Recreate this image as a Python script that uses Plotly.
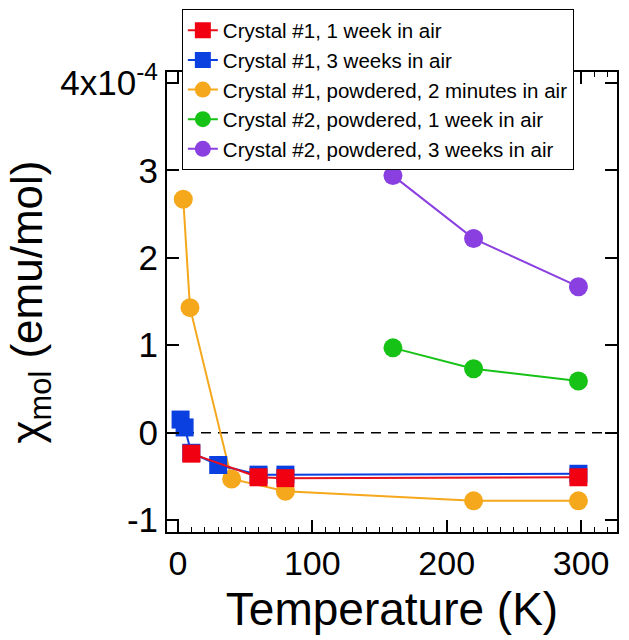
import plotly.graph_objects as go

# Data (chi_mol in units of 1e-4 emu/mol)
red_T = [10, 60, 80, 298]
red_chi = [-0.24, -0.51, -0.52, -0.51]

blue_T = [2, 5, 10, 30, 60, 80, 298]
blue_chi = [0.15, 0.06, -0.23, -0.37, -0.48, -0.48, -0.47]

orange_T = [4, 9, 40, 80, 220, 298]
orange_chi = [2.67, 1.43, -0.53, -0.67, -0.78, -0.78]

green_T = [160, 220, 298]
green_chi = [0.97, 0.73, 0.59]

purple_T = [160, 220, 298]
purple_chi = [2.94, 2.22, 1.67]

y_tickvals = [-1, 0, 1, 2, 3, 4]
y_ticktext = ["-1", "0", "1", "2", "3", "4x10<sup>-4</sup>"]
x_tickvals = [0, 100, 200, 300]

FONT = "Liberation Sans, Arial, sans-serif"

fig = go.Figure()

fig.add_trace(go.Scatter(x=orange_T, y=orange_chi, mode="lines+markers",
                         name="Crystal #1, powdered, 2 minutes in air", legendrank=3,
                         line=dict(color="#F5A81C", width=2),
                         marker=dict(symbol="circle", size=19, color="#F5A81C")))
fig.add_trace(go.Scatter(x=green_T, y=green_chi, mode="lines+markers",
                         name="Crystal #2, powdered, 1 week in air", legendrank=4,
                         line=dict(color="#17C217", width=2),
                         marker=dict(symbol="circle", size=19, color="#17C217")))
fig.add_trace(go.Scatter(x=purple_T, y=purple_chi, mode="lines+markers",
                         name="Crystal #2, powdered, 3 weeks in air", legendrank=5,
                         line=dict(color="#8A3FE0", width=2),
                         marker=dict(symbol="circle", size=19, color="#8A3FE0")))
fig.add_trace(go.Scatter(x=blue_T, y=blue_chi, mode="lines+markers",
                         name="Crystal #1, 3 weeks in air", legendrank=2,
                         line=dict(color="#0A3FE0", width=2),
                         marker=dict(symbol="square", size=18, color="#0A3FE0")))
fig.add_trace(go.Scatter(x=red_T, y=red_chi, mode="lines+markers",
                         name="Crystal #1, 1 week in air", legendrank=1,
                         line=dict(color="#E8101A", width=2),
                         marker=dict(symbol="square", size=18, color="#F00010")))

fig.add_shape(type="line", xref="paper", yref="y", x0=0, x1=1, y0=0, y1=0,
              line=dict(color="black", width=1.5, dash="10px,7px"), layer="below")

fig.update_layout(
    width=629, height=640,
    margin=dict(l=167, r=10, t=69, b=108),
    paper_bgcolor="white", plot_bgcolor="white",
    font=dict(family=FONT, color="black"),
    showlegend=True,
    legend=dict(x=0.033, y=1.136, xanchor="left", yanchor="top",
                bgcolor="white", bordercolor="black", borderwidth=1,
                font=dict(size=20.5, family=FONT), tracegroupgap=0,
                itemwidth=30),
    xaxis=dict(range=[-8.1, 326.7], tickvals=x_tickvals,
               ticks="inside", ticklen=12, tickwidth=1.5, tickcolor="black",
               minor=dict(dtick=10, ticks="inside", ticklen=5, tickwidth=1, tickcolor="black"),
               showline=True, linecolor="black", linewidth=2, mirror="ticks",
               showgrid=False, zeroline=False,
               tickfont=dict(size=34, family=FONT),
               title=dict(text="Temperature (K)", font=dict(size=46, family=FONT), standoff=12)),
    yaxis=dict(range=[-1.136, 4.125], tickvals=y_tickvals, ticktext=y_ticktext,
               ticks="inside", ticklen=12, tickwidth=1.5, tickcolor="black",
               showline=True, linecolor="black", linewidth=2, mirror="ticks",
               showgrid=False, zeroline=False,
               tickfont=dict(size=35, family=FONT),
               title=dict(text="χ<sub>mol</sub> (emu/mol)", font=dict(size=44, family=FONT), standoff=4)),
)

fig.write_html("out.html")
